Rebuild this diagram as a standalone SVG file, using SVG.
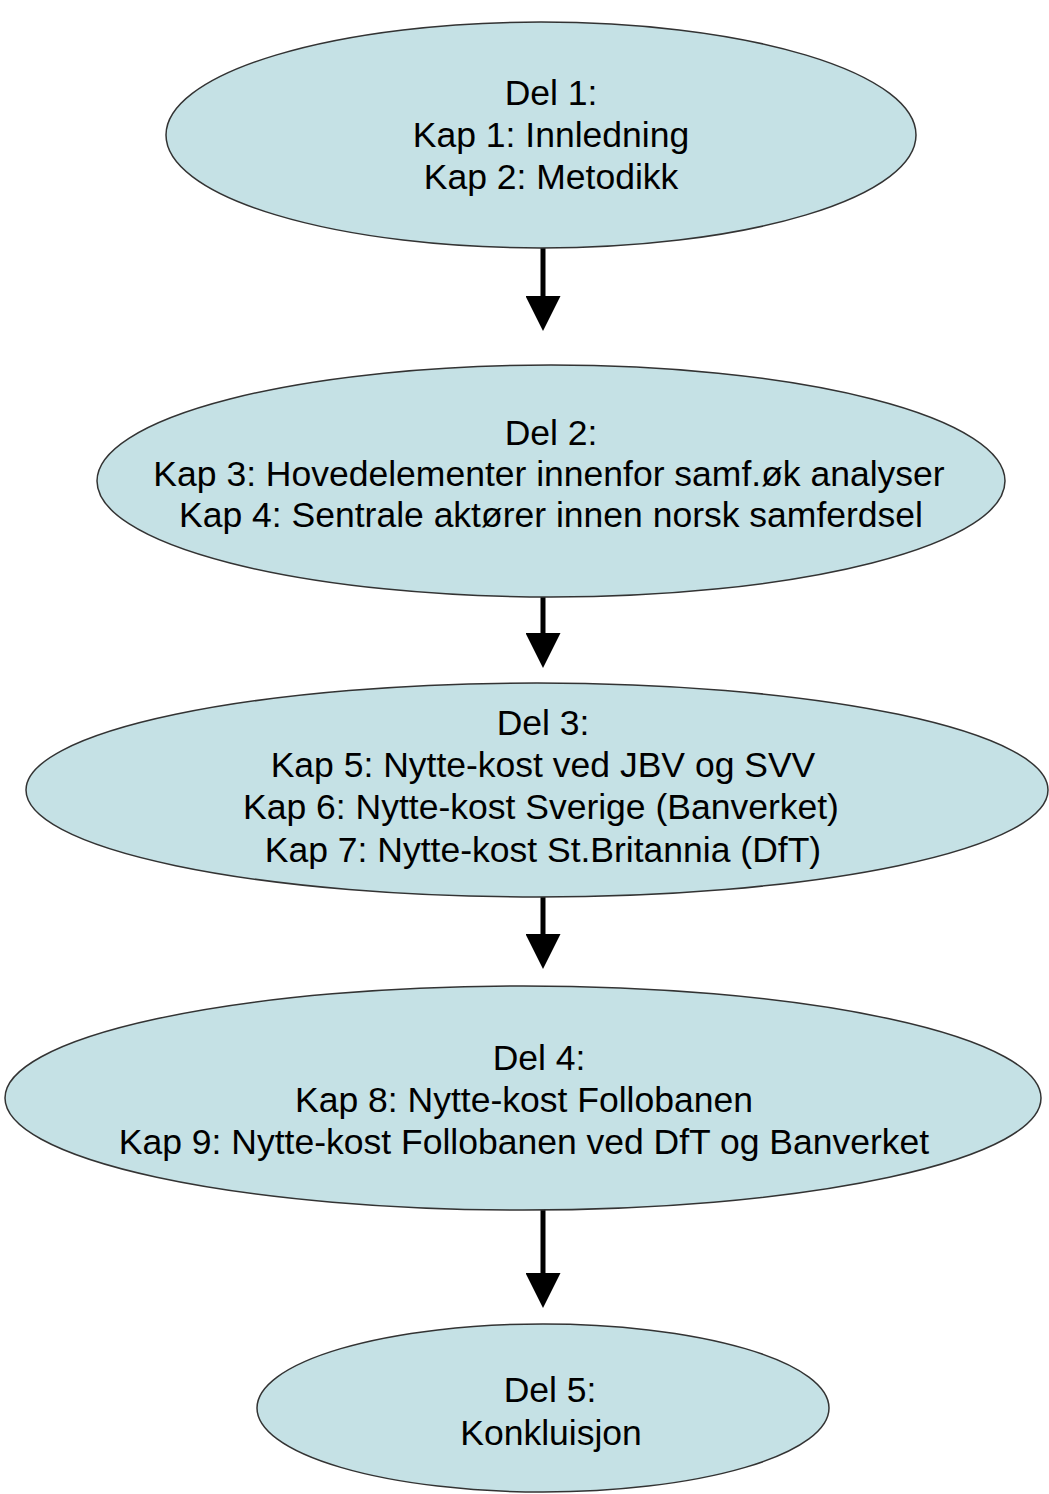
<svg xmlns="http://www.w3.org/2000/svg" width="1049" height="1494" viewBox="0 0 1049 1494">
<defs>
<style>
.n{fill:#c5e1e5;stroke:#333;stroke-width:1.5}
.t{font-family:"Liberation Sans",Arial,sans-serif;font-size:35.5px;fill:#000;text-anchor:middle}
.c{stroke:#000;stroke-width:5;fill:none}
</style>
<marker id="ah" markerWidth="7" markerHeight="7" refX="0" refY="3.5" orient="auto" markerUnits="strokeWidth"><path d="M0,0 L7,3.5 L0,7 Z" fill="#000"/></marker>
</defs>
<rect width="1049" height="1494" fill="#fff"/>
<g id="connectors">
<line class="c" x1="543" y1="247" x2="543" y2="296" marker-end="url(#ah)"/>
<line class="c" x1="543" y1="597" x2="543" y2="633" marker-end="url(#ah)"/>
<line class="c" x1="543" y1="896" x2="543" y2="934" marker-end="url(#ah)"/>
<line class="c" x1="543" y1="1210" x2="543" y2="1273" marker-end="url(#ah)"/>
</g>
<g id="del1">
<ellipse class="n" cx="541" cy="135" rx="375" ry="113"/>
<text class="t" x="551" y="105">Del 1:</text>
<text class="t" x="551" y="147">Kap 1: Innledning</text>
<text class="t" x="551" y="189">Kap 2: Metodikk</text>
</g>
<g id="del2">
<ellipse class="n" cx="551" cy="481" rx="454" ry="116"/>
<text class="t" x="551" y="445">Del 2:</text>
<text class="t" x="549" y="486">Kap 3: Hovedelementer innenfor samf.øk analyser</text>
<text class="t" x="551" y="527">Kap 4: Sentrale aktører innen norsk samferdsel</text>
</g>
<g id="del3">
<ellipse class="n" cx="537" cy="790" rx="511" ry="107"/>
<text class="t" x="543" y="735">Del 3:</text>
<text class="t" x="543" y="777">Kap 5: Nytte-kost ved JBV og SVV</text>
<text class="t" x="541" y="819">Kap 6: Nytte-kost Sverige (Banverket)</text>
<text class="t" x="543" y="862">Kap 7: Nytte-kost St.Britannia (DfT)</text>
</g>
<g id="del4">
<ellipse class="n" cx="523" cy="1098" rx="518" ry="112"/>
<text class="t" x="539" y="1070">Del 4:</text>
<text class="t" x="524" y="1112">Kap 8: Nytte-kost Follobanen</text>
<text class="t" x="524" y="1154">Kap 9: Nytte-kost Follobanen ved DfT og Banverket</text>
</g>
<g id="del5">
<ellipse class="n" cx="543" cy="1408" rx="286" ry="84"/>
<text class="t" x="550" y="1402">Del 5:</text>
<text class="t" x="551" y="1445">Konkluisjon</text>
</g>
</svg>
